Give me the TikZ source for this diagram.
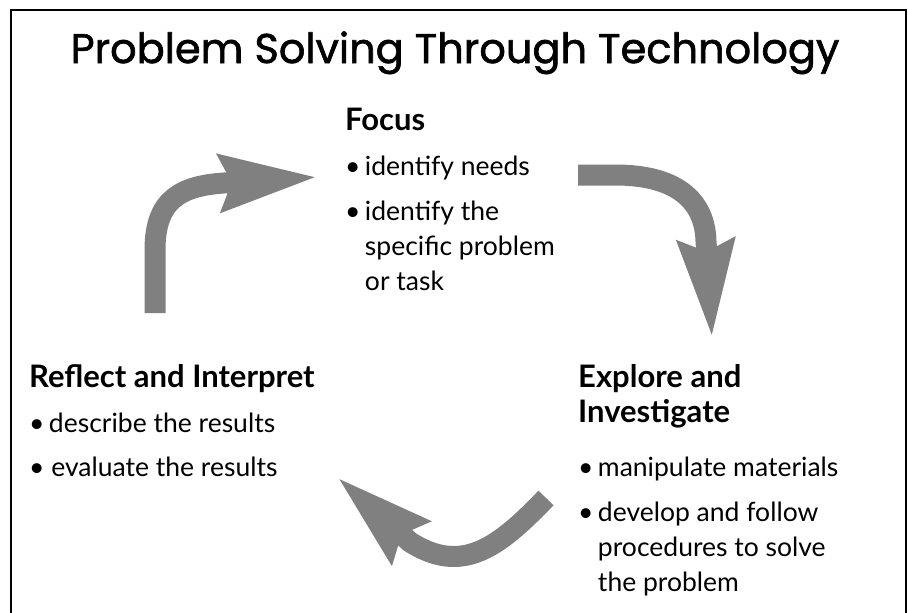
\documentclass[tikz,border=0pt]{standalone}
\usepackage{fontspec}
\setmainfont{Lato}
\newfontfamily\titlefont{Poppins}[FakeBold=1.5]
\usetikzlibrary{arrows.meta}

\definecolor{arrowgray}{HTML}{808080}

\tikzset{
  cyclearrow/.style={draw=arrowgray, line width=21pt, line join=round,
    -{Stealth[length=96pt, width=54pt, inset=10pt]}},
  title/.style={anchor=base, inner sep=0pt, font=\titlefont\fontsize{41.5}{44}\selectfont},
  heading/.style={anchor=base west, inner sep=0pt, font=\fontsize{31}{34}\selectfont\bfseries},
  item/.style={anchor=base west, inner sep=0pt, font=\fontsize{26.5}{30}\selectfont},
}
\newcommand{\bul}{\textbullet\,}
\newcommand{\nobul}{\phantom{\textbullet\,}}

\begin{document}
\begin{tikzpicture}[x=1pt, y=-1pt]
    \useasboundingbox (0, 0) rectangle (908, 613);

    % open frame
    \draw[line width=2pt] (11, 613) -- (11, 10) -- (906, 10) -- (906, 613);

    % title
    \node[title] (title) at (455, 63) {Problem Solving Through Technology};

    % focus block
    \node[heading] (focus)   at (345, 130) {Focus};
    \node[item]    (focus1)  at (345, 175) {\bul identify needs};
    \node[item]    (focus2)  at (345, 220) {\bul identify the};
    \node[item]    (focus2b) at (345, 255) {\nobul specific problem};
    \node[item]    (focus2c) at (345, 290) {\nobul or task};

    % explore block
    \node[heading] (explore)  at (578, 387) {Explore and};
    \node[heading] (exploreb) at (578, 422) {Investigate};
    \node[item]    (explore1) at (578, 476) {\bul manipulate materials};
    \node[item]    (explore2) at (578, 521) {\bul develop and follow};
    \node[item]    (explore2b) at (578, 556) {\nobul procedures to solve};
    \node[item]    (explore2c) at (578, 591) {\nobul the problem};

    % reflect block
    \node[heading] (reflect)  at (29, 387) {Reflect and Interpret};
    \node[item]    (reflect1) at (29, 432) {\bul describe the results};
    \node[item]    (reflect2) at (29, 476) {\textbullet\ evaluate the results};

    % cycle arrows
    \draw[cyclearrow] (155, 313) -- (155, 250) .. controls (155, 200) and (180, 186) .. (224, 183) -- (318, 177);
    \draw[cyclearrow] (578, 175) -- (615, 175) .. controls (682, 175) and (705, 205) .. (706, 241) -- (712, 338);
    \draw[cyclearrow] (546, 498) .. controls (498, 548) and (462, 575) .. (410, 542) -- (337, 477);
\end{tikzpicture}
\end{document}
